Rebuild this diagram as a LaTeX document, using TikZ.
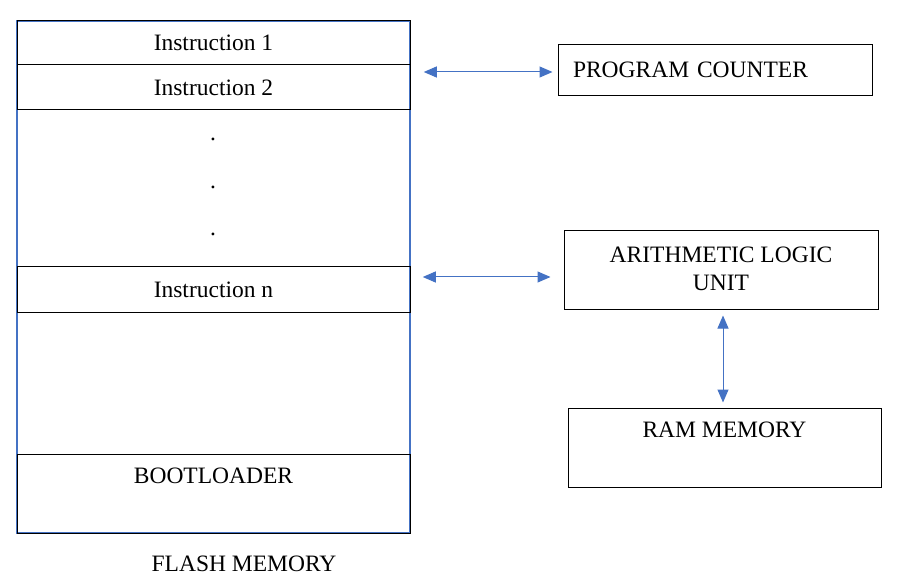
\documentclass[tikz,border=0pt]{standalone}
\usepackage{fontspec}
\setmainfont{Liberation Serif}
\usetikzlibrary{arrows.meta,positioning,calc}
\definecolor{LinkBlue}{HTML}{4472C4}

\begin{document}
\begin{tikzpicture}[x=1pt,y=-1pt,
  font=\fontsize{23.5}{28}\selectfont,
  cell/.style={draw=black,line width=1pt,minimum width=393pt,inner sep=0pt},
  unitbox/.style={draw=black,line width=1pt,inner sep=0pt},
  toplabel/.style={label={[anchor=north,inner sep=0pt,yshift=-14pt]north:#1}},
  link/.style={LinkBlue,line width=1pt,
    {Triangle[length=13pt,width=11pt]}-{Triangle[length=13pt,width=11pt]}}]
  \useasboundingbox (0,0) rectangle (918,585);
  % flash memory
  \node[draw=LinkBlue,line width=1.5pt,minimum width=393pt,minimum height=512pt,
        inner sep=0pt] (flash) at (213.5,277) {};
  \node[cell,minimum height=44pt] (ins1) at (213.5,43) {Instruction 1};
  \node[cell,minimum height=45pt] (ins2) at (213.5,87.5) {Instruction 2};
  \foreach \y in {139,187,234}
    \node (dot\y) at (213,\y) {.};
  \node[cell,minimum height=45pt] (insn) at (213.5,289.5) {Instruction n};
  \node[cell,minimum height=79pt,toplabel=BOOTLOADER] (boot) at (213.5,493.5) {};
  \node (flashlbl) at (244,564) {FLASH MEMORY};
  % units
  \node[unitbox,minimum width=314pt,minimum height=51pt,text width=284pt,
        inner xsep=15pt,align=left] (pc) at (715,70.5)
       {\raisebox{2pt}{PROGRAM COUNTER}};
  \node[unitbox,minimum width=314pt,minimum height=78pt,align=center]
       (alu) at (721,270) {\raisebox{3pt}{ARITHMETIC LOGIC}\\\raisebox{3pt}{UNIT}};
  \node[unitbox,minimum width=313pt,minimum height=79pt,toplabel=RAM MEMORY]
       (ram) at (724.5,447.5) {};
  % buses
  \draw[link,shorten <=13pt,shorten >=5pt]
       ($(flash.east |- pc.west)+(0,1.5)$) -- ($(pc.west)+(0,1.5)$);
  \draw[link,shorten <=12pt,shorten >=13pt]
       ($(flash.east |- alu.west)+(0,7)$) -- ($(alu.west)+(0,7)$);
  \draw[link,shorten <=6pt,shorten >=5pt]
       ($(alu.south)+(2,0)$) -- ($(alu.south |- ram.north)+(2,0)$);
\end{tikzpicture}
\end{document}
